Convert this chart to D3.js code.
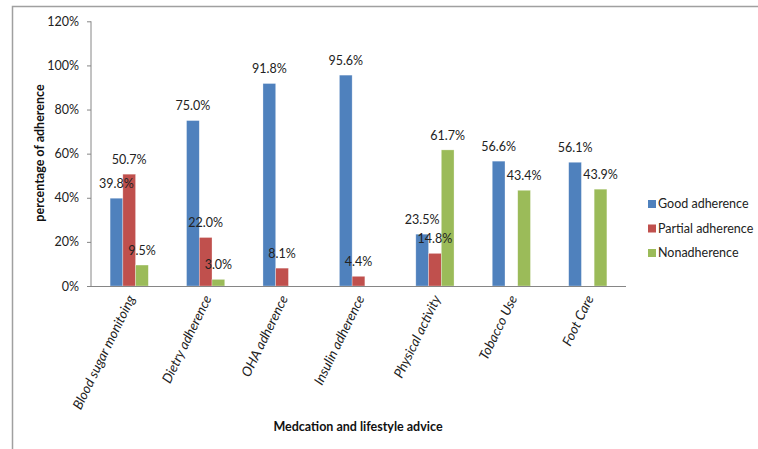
<!DOCTYPE html>
<html><head><meta charset="utf-8">
<script src="https://cdn.jsdelivr.net/npm/d3@7/dist/d3.min.js"></script>
<style>body{margin:0;background:#fff}svg{display:block}text{font-family:Lato,"Open Sans",sans-serif}</style>
</head><body><div id="chart"></div>
<script>
const categories = ["Blood sugar monitoing","Dietry adherence","OHA  adherence","Insulin adherence","Physical activity","Tobacco Use","Foot Care"];
const seriesNames = ["Good adherence","Partial adherence","Nonadherence"];
const goodAdherence = [39.8,75.0,91.8,95.6,23.5,56.6,56.1];
const partialAdherence = [50.7,22.0,8.1,4.4,14.8,null,null];
const nonAdherence = [9.5,3.0,null,null,61.7,43.4,43.9];
const yTicks = [0,20,40,60,80,100,120];
const colors = ["#4F81BD","#C0504D","#9BBB59"];
const series = [goodAdherence, partialAdherence, nonAdherence];

(function(){
const W=758,H=449;
const svg=d3.select("#chart").append("svg").attr("width",W).attr("height",H);
svg.append("path").attr("d",`M12.5,${H} L12.5,6.5 L${W},6.5`).attr("fill","none").attr("stroke","#a0a0a0").attr("stroke-width",1.5);

const pl=91,pr=626,pt=21.3,pb=286;
const x=d3.scaleBand().domain(categories).range([pl,pr]);
const y=d3.scaleLinear().domain([0,120]).range([pb,pt]);
const bw=x.bandwidth()/6;
const x1=d3.scaleBand().domain(d3.range(3)).range([0,bw*3]);

const yAxis=svg.append("g").attr("transform",`translate(${pl},0)`)
  .call(d3.axisLeft(y).tickValues(yTicks).tickFormat(d=>d+"%").tickSize(4).tickPadding(8));
yAxis.select(".domain").attr("stroke","#868686").attr("d",`M0,${y(120)}V${pb}`);
yAxis.selectAll(".tick line").attr("stroke","#868686");
yAxis.selectAll(".tick text").attr("font-size",12.5).attr("fill","#222").attr("font-family","Lato");

const gBars=svg.append("g"), gLabels=svg.append("g");
series.forEach((vals,si)=>{
  vals.forEach((v,ci)=>{
    if(v==null) return;
    const bx=x(categories[ci])+x.bandwidth()/2-bw*1.5+x1(si);
    gBars.append("rect").attr("x",bx).attr("y",y(v)).attr("width",bw).attr("height",pb-y(v))
      .attr("fill",colors[si]).attr("stroke","#fff").attr("stroke-opacity",0.5).attr("stroke-width",0.6);
    gLabels.append("text").attr("x",bx+bw/2).attr("y",y(v)-14.5).attr("dy","0.35em")
      .attr("text-anchor","middle").attr("font-size",12.5).attr("fill","#222").text(v.toFixed(1)+"%");
  });
});

svg.append("line").attr("x1",pl).attr("x2",pr).attr("y1",pb+0.5).attr("y2",pb+0.5).attr("stroke","#868686");
categories.forEach(c=>{
  const cx=x(c)+x.bandwidth()/2;
  svg.append("text").attr("transform",`translate(${cx+2},${pb+10}) rotate(-64)`)
    .attr("text-anchor","end").attr("dy","0.35em").attr("font-size",13.5).attr("font-style","italic")
    .attr("fill","#222").text(c);
});

svg.append("text").attr("transform",`translate(40,153) rotate(-90)`).attr("text-anchor","middle")
  .attr("dy","0.35em").attr("font-size",12.5).attr("font-weight","bold").attr("fill","#111").text("percentage of adherence");
svg.append("text").attr("x",358).attr("y",427).attr("text-anchor","middle").attr("dy","0.35em")
  .attr("font-size",12.5).attr("font-weight","bold").attr("fill","#111").text("Medcation and lifestyle advice");

seriesNames.forEach((n,i)=>{
  const ly=204+i*24.5;
  svg.append("rect").attr("x",648).attr("y",ly-4).attr("width",8).attr("height",8).attr("fill",colors[i]);
  svg.append("text").attr("x",658).attr("y",ly).attr("dy","0.35em").attr("font-size",12.5).attr("fill","#222").text(n);
});
})();
</script></body></html>
